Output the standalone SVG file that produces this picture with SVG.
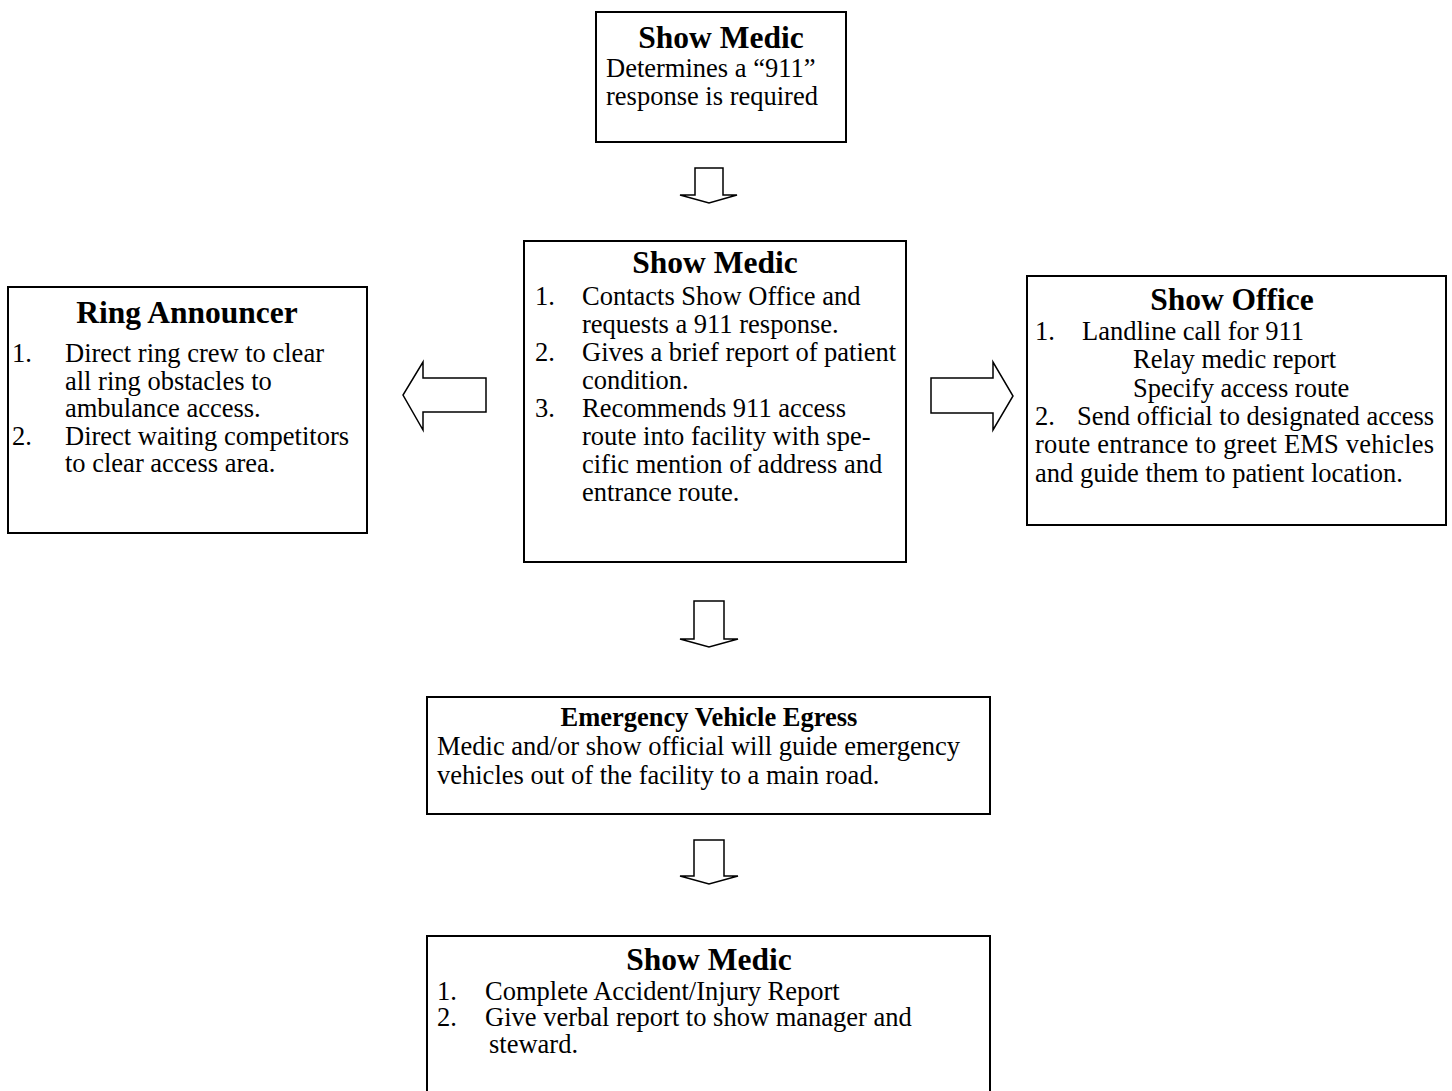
<svg xmlns="http://www.w3.org/2000/svg" width="1452" height="1091" viewBox="0 0 1452 1091">
<style>
.box{fill:#fff;stroke:#000;stroke-width:2}
.arr{fill:#fff;stroke:#000;stroke-width:1.5;stroke-linejoin:miter}
text{font-family:"Liberation Serif","Times New Roman",serif;fill:#000}
.t{font-size:31.5px;font-weight:bold;text-anchor:middle}
.t2{font-size:26.5px;font-weight:bold;text-anchor:middle}
.b{font-size:26.5px}
</style>
<rect width="1452" height="1091" fill="#fff"/>
<g id="connectors">
<polygon class="arr" points="695,168 723,168 723,195 737,195 709,203 680,195 695,195"/>
<polygon class="arr" points="486,378 486,412 423,412 423,430 403,395 423,362 423,378"/>
<polygon class="arr" points="931,378 993,378 993,362 1013,396 993,430 993,413 931,413"/>
<polygon class="arr" points="694,601 724,601 724,639 738,639 709,647 680,639 694,639"/>
<polygon class="arr" points="694,840 724,840 724,876 738,876 709,884 680,876 694,876"/>
</g>
<g id="node-medic-top">
<rect class="box" x="596" y="12" width="250" height="130"/>
<text class="t" x="721" y="48">Show Medic</text>
<text class="b" x="606" y="77">Determines a “911”</text>
<text class="b" x="606" y="105">response is required</text>
</g>
<g id="node-ring-announcer">
<rect class="box" x="8" y="287" width="359" height="246"/>
<text class="t" x="187" y="323">Ring Announcer</text>
<text class="b" x="12" y="362">1.</text>
<text class="b" x="65" y="362">Direct ring crew to clear</text>
<text class="b" x="65" y="389.5">all ring obstacles to</text>
<text class="b" x="65" y="417">ambulance access.</text>
<text class="b" x="12" y="444.5">2.</text>
<text class="b" x="65" y="444.5">Direct waiting competitors</text>
<text class="b" x="65" y="472">to clear access area.</text>
</g>
<g id="node-medic-center">
<rect class="box" x="524" y="241" width="382" height="321"/>
<text class="t" x="715" y="273">Show Medic</text>
<text class="b" x="535" y="305">1.</text>
<text class="b" x="582" y="305">Contacts Show Office and</text>
<text class="b" x="582" y="333">requests a 911 response.</text>
<text class="b" x="535" y="361">2.</text>
<text class="b" x="582" y="361">Gives a brief report of patient</text>
<text class="b" x="582" y="389">condition.</text>
<text class="b" x="535" y="417">3.</text>
<text class="b" x="582" y="417">Recommends 911 access</text>
<text class="b" x="582" y="445">route into facility with spe-</text>
<text class="b" x="582" y="473">cific mention of address and</text>
<text class="b" x="582" y="501">entrance route.</text>
</g>
<g id="node-show-office">
<rect class="box" x="1027" y="276" width="419" height="249"/>
<text class="t" x="1232" y="310">Show Office</text>
<text class="b" x="1035" y="340">1.</text>
<text class="b" x="1082" y="340">Landline call for 911</text>
<text class="b" x="1133" y="368">Relay medic report</text>
<text class="b" x="1133" y="397">Specify access route</text>
<text class="b" x="1035" y="425">2.</text>
<text class="b" x="1077" y="425">Send official to designated access</text>
<text class="b" x="1035" y="453" textLength="399" lengthAdjust="spacing">route entrance to greet EMS vehicles</text>
<text class="b" x="1035" y="482">and guide them to patient location.</text>
</g>
<g id="node-egress">
<rect class="box" x="427" y="697" width="563" height="117"/>
<text class="t2" x="709" y="726">Emergency Vehicle Egress</text>
<text class="b" x="437" y="755">Medic and/or show official will guide emergency</text>
<text class="b" x="437" y="784">vehicles out of the facility to a main road.</text>
</g>
<g id="node-medic-bottom">
<rect class="box" x="427" y="936" width="563" height="165"/>
<text class="t" x="709" y="970">Show Medic</text>
<text class="b" x="437" y="1000">1.</text>
<text class="b" x="485" y="1000">Complete Accident/Injury Report</text>
<text class="b" x="437" y="1026">2.</text>
<text class="b" x="485" y="1026">Give verbal report to show manager and</text>
<text class="b" x="489" y="1053">steward.</text>
</g>
</svg>
